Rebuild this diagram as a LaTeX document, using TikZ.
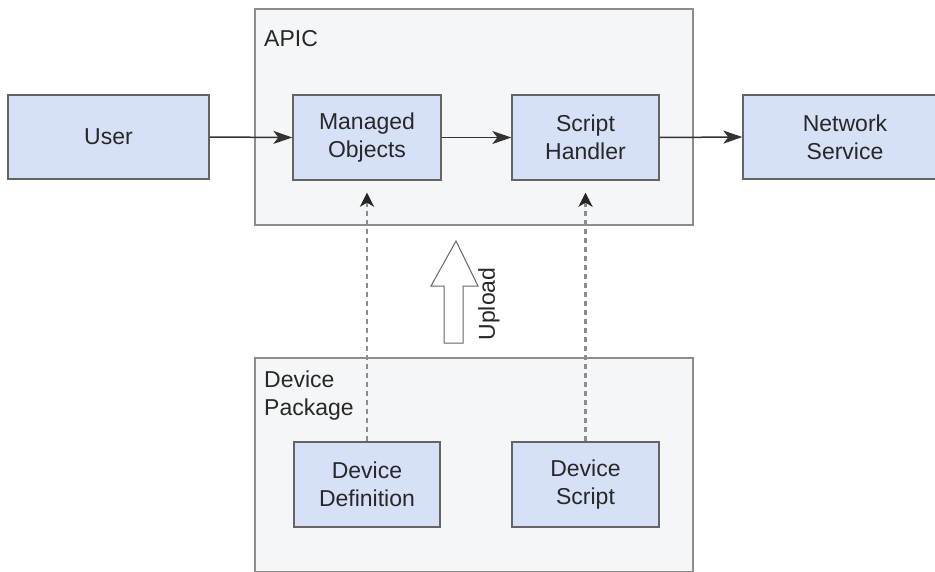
\documentclass[tikz,border=0pt]{standalone}
\usepackage{fontspec}
\setmainfont{Liberation Sans}
\usetikzlibrary{arrows.meta}
\definecolor{boxfill}{RGB}{214,224,247}
\definecolor{boxline}{RGB}{100,100,100}
\definecolor{grpfill}{RGB}{244,246,247}
\definecolor{grpline}{RGB}{140,140,140}
\definecolor{txt}{RGB}{40,40,40}
\tikzset{
  inner/.style={draw=boxline, fill=boxfill, line width=1.3pt, text=txt,
    align=center, font=\fontsize{23}{28}\selectfont, inner sep=0pt},
  group/.style={draw=grpline, fill=grpfill, line width=1.5pt},
  flow/.style={draw=black!80, line width=1.5pt, -{Stealth[length=19pt,width=13pt,inset=5pt]}},
  dflow/.style={draw=black!45, line width=2.6pt, dash pattern=on 5pt off 4pt,
    -{Stealth[length=14pt,width=14pt,inset=4pt,color=black!85]}},
  lbl/.style={text=txt, font=\fontsize{23}{28}\selectfont, align=left, inner sep=0pt, anchor=north west},
}
\begin{document}
\begin{tikzpicture}[x=1pt,y=-1pt]
\useasboundingbox (0,0) rectangle (935,571);
\clip (0,0) rectangle (935,571);
\fill[white] (0,0) rectangle (935,571);
% groups
\node[group, minimum width=438pt, minimum height=216pt, anchor=north west, inner sep=0pt] (apic) at (254,8) {};
\node[group, minimum width=438pt, minimum height=214pt, anchor=north west, inner sep=0pt] (pkg) at (254,357) {};
\node[lbl] (apiclbl) at (264,30) {APIC};
\node[lbl] (pkglbl) at (264,371) {Device\\Package};
% boxes
\node[inner, minimum width=201pt, minimum height=84pt] (user) at (108.5,137) {User};
\node[inner, minimum width=148pt, minimum height=85pt] (mo) at (367,137.5) {Managed\\Objects};
\node[inner, minimum width=147pt, minimum height=85pt] (sh) at (585.5,137.5) {Script\\Handler};
\node[inner, minimum width=204pt, minimum height=84pt] (ns) at (845,137) {Network\\Service};
\node[inner, minimum width=146pt, minimum height=85pt] (dd) at (367,484.5) {Device\\Definition};
\node[inner, minimum width=147pt, minimum height=85pt] (ds) at (585.5,484.5) {Device\\Script};
% connectors
\draw[flow] (user.east) -- (mo.west);
\draw[flow] (mo.east) -- (sh.west);
\draw[flow] (sh.east) -- (ns.west);
\coordinate (motip) at ([yshift=-12pt]mo.south);
\coordinate (shtip) at ([yshift=-12pt]sh.south);
\draw[dflow] (dd.north) -- (motip);
\draw[dflow] (ds.north) -- (shtip);
% upload arrow
\draw[draw=black!60, fill=white, line width=1pt, line join=miter]
  (456,241) -- (478,286) -- (463,286) -- (463,343) -- (444,343) -- (444,286) -- (431,286) -- cycle;
\node[text=txt, font=\fontsize{23}{28}\selectfont, rotate=90, inner sep=0pt] (upl) at (489,304) {Upload};
\end{tikzpicture}
\end{document}
